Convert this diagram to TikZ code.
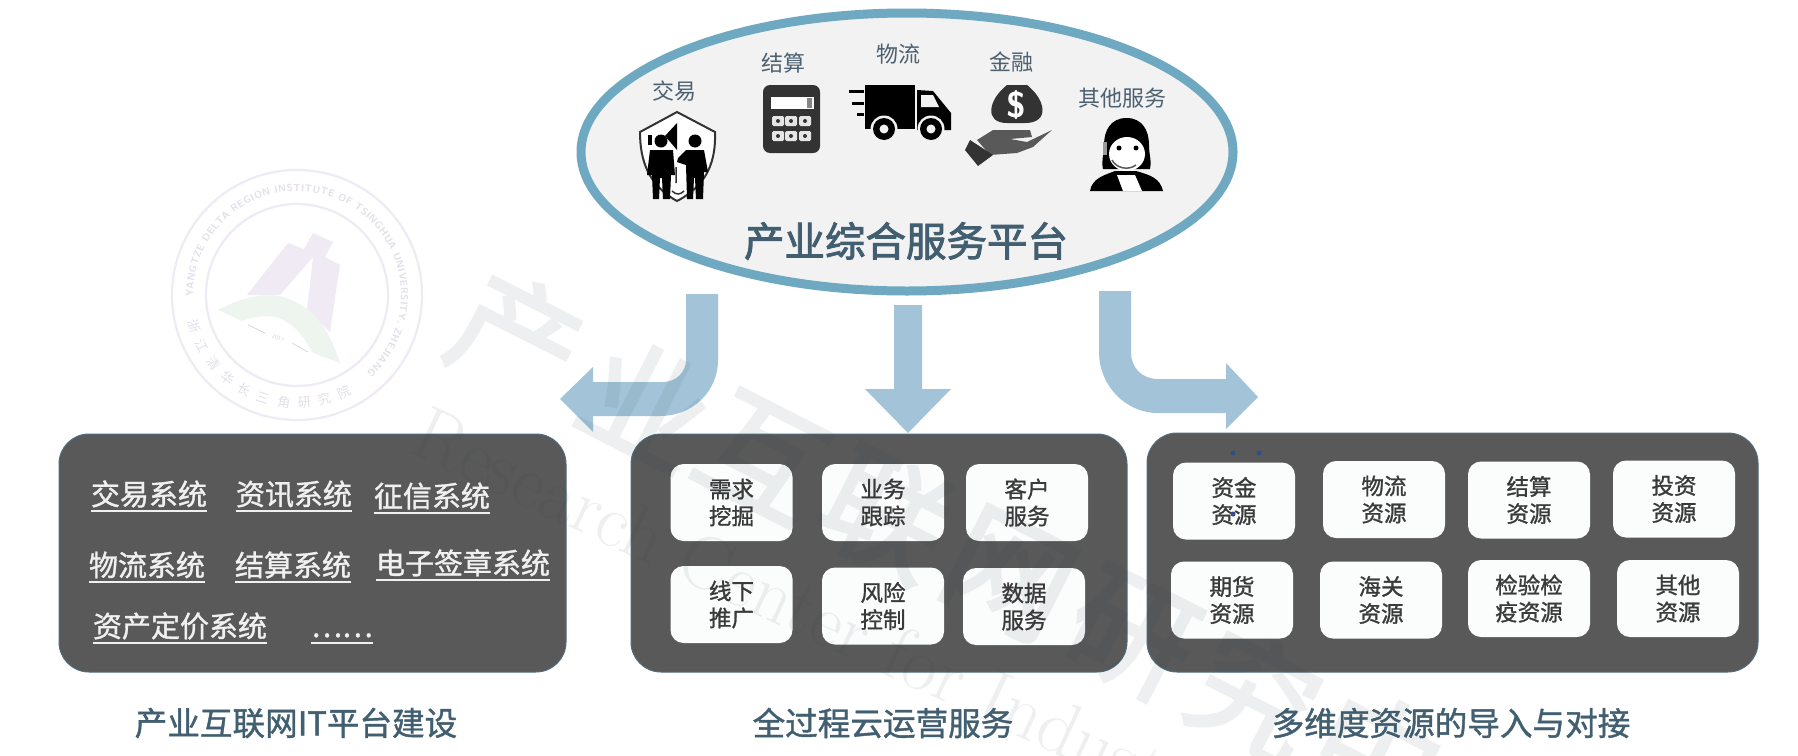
\documentclass[tikz,border=0pt]{standalone}
\usepackage{fontspec}
\usetikzlibrary{decorations.text}
\newfontfamily\cjk{Noto Sans CJK SC}
\newfontfamily\cjkm[FakeBold=1.2]{Noto Sans CJK SC}
\newfontfamily\cjkh[FakeBold=2.2]{Noto Sans CJK SC}
\newfontfamily\cjkw[FakeBold=2.5]{Noto Sans CJK SC}
\newcommand{\fs}[1]{\fontsize{#1}{#1}\selectfont}
\tikzset{
  panelbox/.style={fill=kPanel,draw=kPanelEdge,line width=1pt,rounded corners=30pt},
  tilebox/.style={fill=kTile,rounded corners=13pt,minimum width=122pt,minimum height=77pt,inner sep=0pt,
    align=center,text=kTileText,font=\cjkm\fontsize{22.5}{27}\selectfont},
  syslabel/.style={inner sep=0pt,text=kSysText,font=\cjkm\fs{29},text height=24pt,text depth=6pt},
  smalllabel/.style={inner sep=0pt,text=kSmallText,font=\cjk\fs{22}},
  titlelabel/.style={inner sep=0pt,text=kTitleText,font=\cjkm\fs{32.6}},
  flowarrow/.style={fill=kArrow},
  icondark/.style={fill=kIcon},
  markchar/.style={inner sep=0pt,text=kMark,font=\cjkw\fs{125},rotate=-27},
  sealchar/.style={inner sep=0pt,text=kSeal!90!gray,font=\cjk\fs{13}},
}
\begin{document}
\begin{tikzpicture}[x=1pt,y=-1pt]
  % colors
  \definecolor{kPanel}{HTML}{595959}
  \definecolor{kPanelEdge}{HTML}{4F6D7E}
  \definecolor{kTile}{HTML}{FBFDFD}
  \definecolor{kTileText}{HTML}{3A3A3A}
  \definecolor{kSysText}{HTML}{F0F0F0}
  \definecolor{kSmallText}{HTML}{4C6070}
  \definecolor{kTitleText}{HTML}{415F70}
  \definecolor{kArrow}{HTML}{A3C4D8}
  \definecolor{kRing}{HTML}{6FA9C1}
  \definecolor{kOval}{HTML}{F2F2F2}
  \definecolor{kIcon}{HTML}{333333}
  \definecolor{kMark}{HTML}{2A3A45}
  \definecolor{kSeal}{HTML}{EFEAF3}
  \definecolor{kSealGreen}{HTML}{EDF5EE}
  % page
  \useasboundingbox (0,0) rectangle (1798,755);
  \fill[white] (0,0) rectangle (1798,755);

  % seal
  \fill[kSeal] (247,295) -- (288,243) -- (304,249) -- (313,233) -- (333,242) -- (325,257) -- (340,265)
    -- (330,332) -- (307,310) -- (313,257) -- (280,295) -- cycle;
  \fill[kSealGreen] (218,310) .. controls (240,298) and (265,292) .. (283,297)
    .. controls (310,305) and (328,325) .. (340,363) -- (313,353)
    .. controls (303,335) and (292,322) .. (276,317) .. controls (265,315) and (252,317) .. (242,321) -- cycle;
  \draw[kSeal!70!gray!80!white,line width=0.7pt] (248,325) -- (265,333) (292,343) -- (308,352);
  \node[inner sep=0pt,text=kSeal!70!gray!80!white,font=\sffamily\fs{6},rotate=-24] (sealyear) at (278,338) {2017};
  \begin{scope}[shift={(297,295)},x=1pt,y=1pt]
    \draw[kSeal,line width=2.2pt] (0,0) circle (125);
    \draw[kSeal,line width=2.2pt] (0,0) circle (91);
    \path[decorate,decoration={text along path,text align=fit to path,
      text={|\color{kSeal!90!gray}\sffamily\bfseries\fs{10}|YANGTZE DELTA REGION INSTITUTE OF TSINGHUA UNIVERSITY, ZHEJIANG}}]
      (181:104) arc (181:-48:104);
    \foreach \sch [count=\si, evaluate=\si as \sa using 197+(\si-1)*11] in {浙,江,清,华,长,三,角,研,究,院} {
      \node[sealchar,rotate=\sa+90] (seal\si) at (\sa:108) {\sch};
    };
  \end{scope}

  % platform oval
  \node[inner sep=0pt,minimum size=0pt] (ovalc) at (907,152) {};
  \fill[kOval,draw=kRing,line width=9pt] (ovalc) ellipse (326 and 139);
  \node[inner sep=0pt,text=kTitleText,font=\cjkh\fs{40.5}] (platform) at (906,241) {产业综合服务平台};

  % icon labels
  \foreach \nm/\xx/\yy/\txt in {trade/674/91/交易,settle/783/63/结算,logi/898/54/物流,fin/1011/62/金融,other/1122/98/其他服务} {
    \node[smalllabel] (\nm) at (\xx,\yy) {\txt};
  };

  % trade icon
  \draw[fill=white,draw=kIcon,line width=2pt] (677,112) -- (715,132) .. controls (716,160) and (708,185) .. (677,201)
    .. controls (648,185) and (640,160) .. (640,132) -- cycle;
  \fill[black] (677,123) -- (665,136) -- (677,150) -- cycle;
  \fill[black] (648,135) rectangle (652,145);
  \fill[black] (661,141) circle (6.5);
  \fill[black] (695,141) circle (6.5);
  \fill[black] (650,150) -- (673,150) -- (675,175) -- (671,175) -- (670,199) -- (663,199) -- (662,178)
    -- (660,178) -- (659,199) -- (653,199) -- (652,175) -- (647,175) -- cycle;
  \fill[black] (686,150) -- (704,150) -- (708,172) -- (704,172) -- (703,199) -- (696,199) -- (695,178)
    -- (694,178) -- (693,199) -- (687,199) -- (686,165) -- (677,162) -- (678,158) -- cycle;
  \draw[kIcon,line width=1.5pt] (676,167) -- (676,183) (672,191) .. controls (676,195) and (680,195) .. (684,191);

  % calculator icon
  \fill[icondark,rounded corners=7pt] (763,85) rectangle (820,153);
  \fill[white] (771,97) rectangle (814,109);
  \fill[kIcon!60] (807,98) rectangle (812,108);
  \foreach \xx in {778,791,805} {
    \foreach \yy in {121,136} {
      \fill[white!90!black,rounded corners=1.5pt] (\xx-6,\yy-5) rectangle (\xx+6,\yy+5);
      \fill[kIcon] (\xx,\yy) circle (2);
    };
  };

  % truck icon
  \fill[black] (865,85) rectangle (915,129);
  \fill[black] (917,90) -- (933,91) -- (951,113) -- (951,130) -- (917,130) -- cycle;
  \fill[kOval] (921,95) -- (933,95) -- (939,107) -- (921,107) -- cycle;
  \foreach \xx/\yy/\xe in {849/91/864,852/103/864,857/114/864} {
    \draw[black,line width=3pt] (\xx,\yy) -- (\xe,\yy);
  };
  \foreach \xx in {884,931} {
    \fill[kOval] (\xx,129) circle (13.5);
    \fill[black] (\xx,129) circle (11);
    \fill[kOval] (\xx,129) circle (4.5);
  };

  % money icon
  \fill[icondark] (1007,85) -- (1027,85) .. controls (1046,100) and (1050,123) .. (1025,123)
    -- (1007,123) .. controls (984,123) and (988,100) .. (1007,85) -- cycle;
  \node[inner sep=0pt,text=white,font=\sffamily\bfseries\fs{36}] (dollar) at (1016,105) {\$};
  \fill[kPanel] (977,140) -- (993,130) -- (1030,130) -- (1032,137) -- (1010,139) -- (1027,142) -- (1052,130)
    -- (1033,147) -- (1017,153) -- (990,155) -- cycle;
  \fill[icondark] (970,140) -- (993,155) -- (978,166) -- (965,150) -- cycle;

  % agent icon
  \fill[black] (1090,191) .. controls (1092,178) and (1105,175) .. (1115,171) -- (1136,171)
    .. controls (1150,175) and (1160,178) .. (1163,191) -- cycle;
  \fill[white] (1117,175) -- (1135,175) -- (1142,191) -- (1123,191) -- cycle;
  \fill[black] (1126.5,118) .. controls (1142,118) and (1149,130) .. (1149,145) .. controls (1149,155) and (1152,162) .. (1150,169)
    -- (1103,169) .. controls (1101,160) and (1104,155) .. (1104,145) .. controls (1104,130) and (1111,118) .. (1126.5,118) -- cycle;
  \fill[white] (1127,154) ellipse (18 and 17);
  \fill[black] (1119,148) circle (2.5);
  \fill[black] (1136,148) circle (2.5);
  \draw[kPanel,line width=1.5pt] (1112,160) .. controls (1116,168) and (1128,171) .. (1136,165);
  \fill[kPanel!60] (1103,142) rectangle (1107,155);

  % arrows
  \fill[flowarrow] (686,294) -- (718,294) -- (718,360) .. controls (718,392) and (692,416) .. (660,416)
    -- (593,416) -- (593,432) -- (560,399) -- (593,367) -- (593,382) -- (663,382)
    .. controls (676,382) and (686,372) .. (686,360) -- cycle;
  \fill[flowarrow] (894,305) -- (922,305) -- (922,389) -- (951,389) -- (908,433) -- (865,389) -- (894,389) -- cycle;
  \fill[flowarrow] (1099,291) -- (1131,291) -- (1131,352) .. controls (1131,368) and (1142,379) .. (1158,379)
    -- (1226,379) -- (1226,363) -- (1258,397) -- (1226,429) -- (1226,413) -- (1158,413)
    .. controls (1125,413) and (1099,385) .. (1099,352) -- cycle;

  % panels
  \draw[panelbox] (59,434) rectangle (566,672);
  \draw[panelbox] (631,434) rectangle (1127,672);
  \draw[panelbox] (1147,433) rectangle (1758,672);

  % system labels
  \foreach \nm/\xx/\yy/\txt in {sysa/149/496/交易系统,sysb/294/496/资讯系统,sysc/432/498/征信系统,
      sysd/147/567/物流系统,syse/293/567/结算系统,sysf/463/565/电子签章系统,
      sysg/180/628/资产定价系统,sysh/342/628/……} {
    \node[syslabel] (\nm) at (\xx,\yy) {\txt};
    \draw[kSysText,line width=1.5pt] (\nm.south west) -- (\nm.south east);
  };

  % service tiles
  \foreach \nm/\xx/\yy/\txt in {sera/731.5/502.5/需求\\挖掘,serb/883/502.5/业务\\跟踪,serc/1027/502.5/客户\\服务,
      serd/731.5/604.5/线下\\推广,sere/883/606/风险\\控制,serf/1024/606.5/数据\\服务} {
    \node[tilebox] (\nm) at (\xx,\yy) {\txt};
  };

  % resource tiles
  \foreach \nm/\xx/\yy/\txt in {resa/1234/501/资金\\资源,resb/1384/499.5/物流\\资源,resc/1529/500/结算\\资源,resd/1674/499/投资\\资源,
      rese/1232/600/期货\\资源,resf/1381/600/海关\\资源,resg/1529/598.5/检验检\\疫资源,resh/1678/598.5/其他\\资源} {
    \node[tilebox] (\nm) at (\xx,\yy) {\txt};
  };
  \foreach \xx/\yy in {1233/453,1259/453,1233/514} {
    \fill[kTitleText!80!blue] (\xx,\yy) circle (2.5);
  };

  % titles
  \node[titlelabel] (tita) at (296,723) {产业互联网IT平台建设};
  \node[titlelabel] (titb) at (883,723) {全过程云运营服务};
  \node[titlelabel] (titc) at (1451,723) {多维度资源的导入与对接};

  % watermark
  \begin{scope}[transparency group,opacity=0.08]
    \foreach \wch/\wx/\wy [count=\wi] in {产/517/337,业/647/403,互/763/457,联/886/515,网/1009/575,研/1132/635,究/1255/695,中/1378/755} {
      \node[markchar] (mark\wi) at (\wx,\wy) {\wch};
    };
    \node[inner sep=0pt,anchor=west,text=kMark,font=\rmfamily\fs{76},rotate=-25] (markline) at (418,428) {Research Center for Indust};
  \end{scope}
\end{tikzpicture}
\end{document}
